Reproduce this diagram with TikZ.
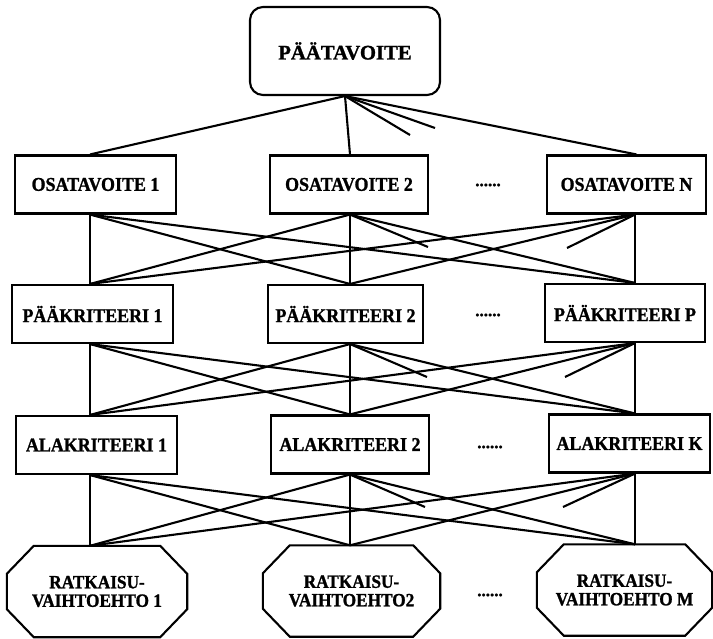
\documentclass[tikz,border=0pt]{standalone}
\usepackage{fontspec}
\setmainfont{Liberation Serif}
\newfontfamily\headfont[FakeBold=1.2]{Liberation Serif Bold}
\newfontfamily\lblfont[FakeStretch=0.92, FakeBold=1.2]{Liberation Serif Bold}
\usetikzlibrary{calc}

\begin{document}
\begin{tikzpicture}[x=1pt,y=-1pt,
  conn/.style={line width=2.1pt},
  topnode/.style={draw, line width=2.1pt, rounded corners=13pt, inner sep=0pt,
    minimum width=190pt, minimum height=88pt,
    font=\headfont\fontsize{20.7}{22}\selectfont},
  boxnode/.style={draw, line width=2.1pt, rectangle, inner sep=0pt,
    minimum width=#1, minimum height=58pt,
    font=\lblfont\fontsize{19.5}{20}\selectfont},
  altnode/.style={rectangle, inner sep=0pt, align=center,
    minimum width=#1, minimum height=91pt,
    font=\lblfont\fontsize{18.75}{18.5}\selectfont},
  dotsnode/.style={inner sep=0pt, font=\headfont\fontsize{17}{17}\selectfont},
  octagon/.style={line width=2.1pt, line join=miter}
]
\useasboundingbox (0,0) rectangle (713,638);

% column positions of the connection points
\coordinate (c1) at (90,0);
\coordinate (c2) at (350,0);
\coordinate (c3) at (635,0);

% main goal
\node[topnode] (top) at (345,51) {PÄÄTAVOITE};

% sub-goals
\node[boxnode=161pt] (o1) at (95.5,184.5) {OSATAVOITE 1};
\node[boxnode=158pt] (o2) at (349,184.5) {OSATAVOITE 2};
\node[boxnode=159pt] (on) at (626.5,184.5) {OSATAVOITE N};
\node[dotsnode] (d1) at (488,185) {......};

% main criteria
\node[boxnode=161pt] (p1) at (92.5,314) {PÄÄKRITEERI 1};
\node[boxnode=155pt] (p2) at (345.5,314) {PÄÄKRITEERI 2};
\node[boxnode=160pt] (pp) at (625,313) {PÄÄKRITEERI P};
\node[dotsnode] (d2) at (488,315) {......};

% sub-criteria
\node[boxnode=161pt] (a1) at (96.5,445) {ALAKRITEERI 1};
\node[boxnode=158pt] (a2) at (350,444.5) {ALAKRITEERI 2};
\node[boxnode=161pt] (ak) at (629.5,443.5) {ALAKRITEERI K};
\node[dotsnode] (d3) at (490,447) {......};

% alternatives
\node[altnode=180pt] (r1) at (97,591.5) {RATKAISU-\\VAIHTOEHTO 1};
\node[altnode=177pt] (r2) at (351.5,591) {RATKAISU-\\VAIHTOEHTO2};
\node[altnode=175pt] (rm) at (624.5,590) {RATKAISU-\\VAIHTOEHTO M};
\node[dotsnode] (d4) at (490,595) {......};

% octagonal outlines of the alternatives
\foreach \n in {r1,r2,rm}
  \draw[octagon] ($(\n.north west)+(27,0)$) -- ($(\n.north east)+(-27,0)$)
    -- ($(\n.north east)+(0,28)$) -- ($(\n.south east)+(0,-28)$)
    -- ($(\n.south east)+(-27,0)$) -- ($(\n.south west)+(27,0)$)
    -- ($(\n.south west)+(0,-28)$) -- ($(\n.north west)+(0,28)$) -- cycle;

% main goal to sub-goals
\draw[conn] (top.south) -- (o1.north -| c1);
\draw[conn] (top.south) -- (o2.north -| c2);
\draw[conn] (top.south) -- ([xshift=10pt]on.north);
\coordinate (t1) at (410,135);
\coordinate (t2) at (435,128);
\draw[conn] (top.south) -- (t1);
\draw[conn] (top.south) -- (t2);

% sub-goals to main criteria
\foreach \u/\cu in {o1/c1,o2/c2,on/c3}
  \foreach \v/\cv in {p1/c1,p2/c2,pp/c3}
    \draw[conn] (\u.south -| \cu) -- (\v.north -| \cv);
\coordinate (s1) at (428,247);
\coordinate (s2) at (567,248);
\draw[conn] (o2.south -| c2) -- (s1);
\draw[conn] (on.south -| c3) -- (s2);

% main criteria to sub-criteria
\foreach \u/\cu in {p1/c1,p2/c2,pp/c3}
  \foreach \v/\cv in {a1/c1,a2/c2,ak/c3}
    \draw[conn] (\u.south -| \cu) -- (\v.north -| \cv);
\coordinate (s3) at (427,377);
\coordinate (s4) at (565,377);
\draw[conn] (p2.south -| c2) -- (s3);
\draw[conn] (pp.south -| c3) -- (s4);

% sub-criteria to alternatives
\foreach \u/\cu in {a1/c1,a2/c2,ak/c3}
  \foreach \v/\cv in {r1/c1,r2/c2,rm/c3}
    \draw[conn] (\u.south -| \cu) -- (\v.north -| \cv);
\coordinate (s5) at (425,507);
\coordinate (s6) at (563,507);
\draw[conn] (a2.south -| c2) -- (s5);
\draw[conn] (ak.south -| c3) -- (s6);
\end{tikzpicture}
\end{document}
